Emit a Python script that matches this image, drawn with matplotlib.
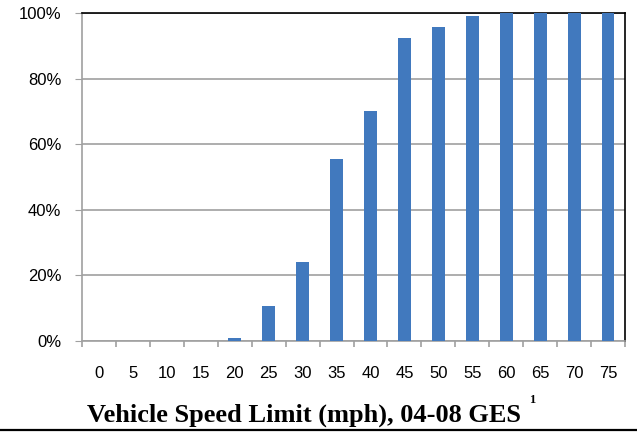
"""
speed limit share bar chart
"""
import matplotlib
matplotlib.use("Agg")
import matplotlib.pyplot as plt
from matplotlib.lines import Line2D
import numpy as np

# ------------------------------------------------------
# data
speed_limits = ["0", "5", "10", "15", "20", "25", "30", "35",
                "40", "45", "50", "55", "60", "65", "70", "75"]
share_pct = [0, 0, 0, 0, 1.0, 10.7, 24.0, 55.5,
             70.0, 92.5, 95.8, 99.2, 100, 100, 100, 100]
y_ticks = [0, 20, 40, 60, 80, 100]

bar_color = "#4179BE"
grid_color = "#A0A0A0"

fig = plt.figure(figsize=(6.37, 4.34), dpi=100)
ax = fig.add_axes([82 / 637, 93 / 434, 543 / 637, 328 / 434])

x = np.arange(len(speed_limits))
ax.bar(x, share_pct, width=0.38, color=bar_color, zorder=3)

ax.set_xlim(-0.5, len(speed_limits) - 0.5)
ax.set_ylim(0, 100)

# y axis
ax.set_yticks(y_ticks)
ax.set_yticklabels([f"{v}%" for v in y_ticks], family="Liberation Sans", fontsize=12)
ax.yaxis.grid(True, color=grid_color, linewidth=1.2, zorder=0)
ax.tick_params(axis="y", length=5, color=grid_color, pad=10)

# x axis: labels at bar centres, ticks at boundaries
ax.set_xticks(x)
ax.set_xticklabels(speed_limits, family="Liberation Sans", fontsize=12)
ax.tick_params(axis="x", which="major", length=0, pad=18)
ax.set_xticks(np.arange(-0.5, len(speed_limits)), minor=True)
ax.tick_params(axis="x", which="minor", length=4, color=grid_color, width=1.2)

for side in ["left", "bottom"]:
    ax.spines[side].set_color(grid_color)
    ax.spines[side].set_linewidth(1.2)
for side in ["top", "right"]:
    ax.spines[side].set_color("black")
    ax.spines[side].set_linewidth(1.2)

fig.text(304 / 637, 12 / 434, "Vehicle Speed Limit (mph), 04-08 GES",
         family="Liberation Serif", fontsize=19, fontweight="bold",
         ha="center", va="baseline")
fig.text(529 / 637, 31 / 434, "1", family="Liberation Serif", fontsize=9,
         fontweight="bold", ha="left", va="baseline")

fig.add_artist(Line2D([0, 1], [4 / 434, 4 / 434], color="black",
                      linewidth=1.6, transform=fig.transFigure))

fig.savefig("out.png", dpi=100)
